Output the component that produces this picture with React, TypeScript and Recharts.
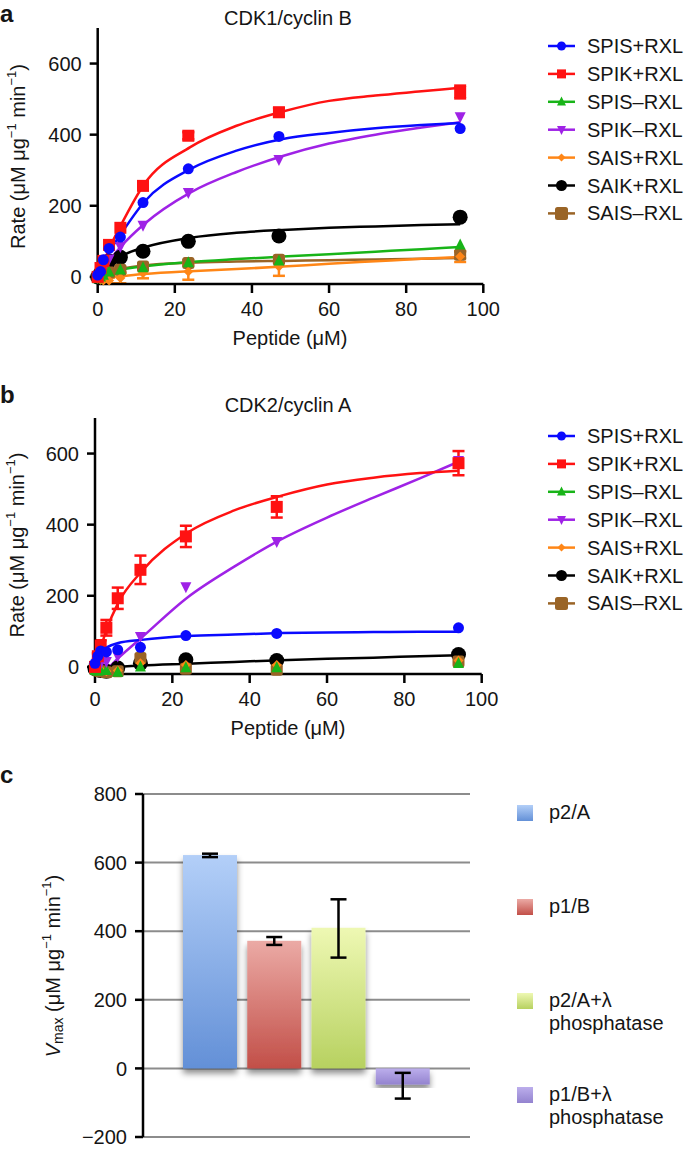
import React from 'react';
import {
  ComposedChart, Line, Scatter, XAxis, YAxis, ErrorBar,
  BarChart, Bar, Cell, CartesianGrid,
} from 'recharts';

const FONT = '"Liberation Sans", Arial, Helvetica, sans-serif';
const INK = '#151515';

// ---------- shared data ----------
const peptideConc = [0, 0.73, 1.47, 2.94, 5.88, 11.75, 23.5, 47, 94];
const fitConc = [0, 1.5, 3, 6, 12, 24, 36, 48, 60, 72, 84, 94];
const seriesNames = ['SPIS+RXL', 'SPIK+RXL', 'SPIS–RXL', 'SPIK–RXL', 'SAIS+RXL', 'SAIK+RXL', 'SAIS–RXL'];
const peptideTicks = [0, 20, 40, 60, 80, 100];
const rateTicks = [0, 200, 400, 600];

// ---------- panel a : CDK1/cyclin B ----------
const aSpisPlus = [5, 15, 48, 80, 112, 209, 304, 395, 417];
const aSpikPlus = [0, 25, 45, 90, 138, 256, 397, 463, 520];
const aSpikPlusErr = [0, 0, 0, 0, 0, 5, 10, 12, 18];
const aSpisMinus = [-5, 0, 5, 14, 20, 26, 40, 45, 90];
const aSpikMinus = [0, 10, 25, 50, 85, 145, 237, 330, 450];
const aSaisPlus = [-5, -8, -10, -10, -3, 11, 15, 29, 57];
const aSaisPlusErr = [0, 3, 5, 8, 15, 15, 23, 26, 15];
const aSaikPlus = [0, 10, 20, 45, 55, 72, 100, 115, 168];
const aSaisMinus = [0, 2, 5, 12, 20, 29, 39, 48, 62];
const aSaisMinusErr = [0, 0, 0, 5, 8, 8, 8, 8, 10];

const aFitSpisPlus = [0, 35, 70, 120, 210, 303, 355, 388, 405, 418, 427, 433];
const aFitSpikPlus = [0, 40, 80, 145, 260, 365, 425, 465, 495, 510, 522, 532];
const aFitSpisMinus = [0, 6, 12, 20, 30, 42, 50, 57, 64, 71, 78, 84];
const aFitSpikMinus = [0, 22, 45, 85, 148, 237, 295, 340, 375, 400, 420, 435];
const aFitSaisPlus = [-5, -3, -1, 2, 8, 16, 22, 29, 37, 44, 51, 56];
const aFitSaikPlus = [0, 22, 38, 58, 83, 110, 124, 132, 138, 142, 146, 148];
const aFitSaisMinus = [0, 6, 12, 22, 32, 40, 43, 45, 47, 49, 51, 53];

// ---------- panel b : CDK2/cyclin A ----------
const bSpisPlus = [10, 30, 45, 42, 48, 55, 88, 94, 110];
const bSpikPlus = [0, 30, 60, 110, 193, 273, 367, 450, 573];
const bSpikPlusErr = [0, 8, 15, 22, 30, 40, 30, 30, 34];
const bSpisMinus = [-10, -12, -10, -10, -15, 0, -2, -2, 10];
const bSpikMinus = [0, 5, 10, 15, 30, 85, 225, 352, 580];
const bSaisPlus = [-5, -5, -8, -12, -10, 10, 5, 5, 18];
const bSaikPlus = [-5, -8, -10, -12, -3, 10, 20, 18, 35];
const bSaisMinus = [-5, -10, -12, -15, -12, 25, -5, -8, 15];

const bFitSpisPlus = [0, 45, 55, 67, 76, 87, 91, 95, 97, 98, 99, 99];
const bFitSpikPlus = [0, 55, 105, 180, 268, 378, 440, 481, 513, 532, 545, 552];
const bFitSpikMinus = [-10, -10, -5, 25, 82, 196, 282, 358, 420, 476, 530, 577];
const bFitSaikPlus = [-3, -2, -1, 0, 4, 9, 14, 19, 23, 26, 30, 33];

// ---------- panel c : Vmax ----------
const vmaxLabels = ['p2/A', 'p1/B', 'p2/A+λ phosphatase', 'p1/B+λ phosphatase'];
const vmaxValues = [622, 372, 410, -47];
const vmaxErrLow = [6, 12, 87, 41];
const vmaxErrHigh = [4, 11, 83, 34];
const vmaxTicks = [-200, 0, 200, 400, 600, 800];

// ---------- styles ----------
const seriesColors = ['#0a0aff', '#ff1212', '#18b418', '#9f22e6', '#ff8616', '#000000', '#9a6426'];
const seriesMarkers = ['circle', 'square', 'triangle', 'tridown', 'diamond', 'circle', 'rsquare'];
const markerSizes = [11, 12, 11, 11, 10, 15, 12];
const legendMarkerSizes = [9, 9, 9, 9, 8, 11, 13];
const drawOrder = [5, 6, 4, 2, 3, 1, 0];
const barTop = ['#b3cff8', '#ebaaa5', '#eef8b3', '#bcaeec'];
const barBottom = ['#6390d7', '#c24f48', '#b7d160', '#9383cf'];

const toPoints = (xs: number[], ys: number[], es?: number[] | null) =>
  xs.map((x, i) => ({ x, y: ys[i], e: es ? es[i] : 0 }));

function renderMarker(kind: string, cx: number, cy: number, color: string, s: number) {
  const h = s / 2;
  switch (kind) {
    case 'circle':
      return <circle cx={cx} cy={cy} r={h} fill={color} />;
    case 'square':
      return <rect x={cx - h} y={cy - h} width={s} height={s} fill={color} />;
    case 'rsquare':
      return <rect x={cx - h} y={cy - h} width={s} height={s} rx={2.5} fill={color} />;
    case 'triangle':
      return <polygon points={`${cx},${cy - s * 0.58} ${cx - h},${cy + s * 0.42} ${cx + h},${cy + s * 0.42}`} fill={color} />;
    case 'tridown':
      return <polygon points={`${cx},${cy + s * 0.58} ${cx - h},${cy - s * 0.42} ${cx + h},${cy - s * 0.42}`} fill={color} />;
    case 'diamond':
    default:
      return <polygon points={`${cx},${cy - h} ${cx + h},${cy} ${cx},${cy + h} ${cx - h},${cy}`} fill={color} />;
  }
}

const AX = { stroke: '#000', strokeWidth: 2.5 };
const TICK = { fontSize: 20, fill: INK, fontFamily: FONT };

type KProps = {
  plotLeft: number;
  plotRight: number;
  points: number[][];
  errors: (number[] | null)[];
  fits: (number[] | null)[];
};

function KineticsChart({ plotLeft, plotRight, points, errors, fits }: KProps) {
  return (
    <ComposedChart
      width={685}
      height={340}
      margin={{ top: 28, right: 685 - plotRight, bottom: 0, left: 0 }}
      style={{ fontFamily: FONT }}
    >
      <XAxis
        type="number"
        dataKey="x"
        domain={[0, 100]}
        ticks={peptideTicks}
        interval={0}
        height={56}
        axisLine={AX}
        tickLine={AX}
        tickSize={9}
        tickMargin={9}
        tick={TICK}
      />
      <YAxis
        type="number"
        domain={[-20, 700]}
        ticks={rateTicks}
        interval={0}
        width={plotLeft}
        axisLine={AX}
        tickLine={AX}
        tickSize={8}
        tickMargin={8}
        tick={TICK}
      />
      {drawOrder.map((i) =>
        fits[i] ? (
          <Line
            key={'fit' + i}
            data={toPoints(fitConc, fits[i] as number[])}
            dataKey="y"
            type="monotone"
            stroke={seriesColors[i]}
            strokeWidth={2.5}
            dot={false}
            activeDot={false}
            legendType="none"
            isAnimationActive={false}
          />
        ) : null
      )}
      {drawOrder.map((i) => (
        <Scatter
          key={'pts' + i}
          name={seriesNames[i]}
          data={toPoints(peptideConc, points[i], errors[i])}
          dataKey="y"
          fill={seriesColors[i]}
          isAnimationActive={false}
          shape={(p: any) => renderMarker(seriesMarkers[i], p.cx, p.cy, seriesColors[i], markerSizes[i])}
        >
          {errors[i] ? (
            <ErrorBar dataKey="e" direction="y" width={6} stroke={seriesColors[i]} strokeWidth={2.5} />
          ) : null}
        </Scatter>
      ))}
    </ComposedChart>
  );
}

function KineticsLegend({ top }: { top: number }) {
  return (
    <g>
      {seriesNames.map((n, i) => {
        const cy = top + i * 27.9;
        return (
          <g key={n}>
            <line x1={548} x2={575} y1={cy} y2={cy} stroke={seriesColors[i]} strokeWidth={2.5} />
            {renderMarker(seriesMarkers[i], 561.5, cy, seriesColors[i], legendMarkerSizes[i])}
            <text x={587} y={cy + 7} fontSize={20} fill={INK} fontFamily={FONT}>{n}</text>
          </g>
        );
      })}
    </g>
  );
}

function RateLabel({ cx, cy }: { cx: number; cy: number }) {
  return (
    <text
      transform={`translate(${cx},${cy}) rotate(-90)`}
      textAnchor="middle"
      dominantBaseline="central"
      fontSize={20}
      fill={INK}
      fontFamily={FONT}
    >
      <tspan>Rate (μM μg</tspan>
      <tspan fontSize={13} dy={-7}>−1</tspan>
      <tspan dy={7}> min</tspan>
      <tspan fontSize={13} dy={-7}>−1</tspan>
      <tspan dy={7}>)</tspan>
    </text>
  );
}

const GradBar = (props: any) => {
  const { x, y, width, height, fill } = props;
  if (x == null || y == null) return null;
  const top = Math.min(y, y + height);
  const h = Math.abs(height);
  return <rect x={x} y={top} width={width} height={h} fill={fill} filter="url(#barShadow)" />;
};

function VmaxChart() {
  const data = vmaxLabels.map((name, i) => ({
    name,
    v: vmaxValues[i],
    err: [vmaxErrLow[i], vmaxErrHigh[i]],
  }));
  return (
    <BarChart
      width={685}
      height={389}
      data={data}
      margin={{ top: 34, right: 215, bottom: 12, left: 0 }}
      barCategoryGap={5}
      style={{ fontFamily: FONT }}
    >
      <defs>
        {vmaxLabels.map((_, i) => (
          <linearGradient key={i} id={'vgrad' + i} x1="0" y1="0" x2="0" y2="1">
            <stop offset="0%" stopColor={barTop[i]} />
            <stop offset="100%" stopColor={barBottom[i]} />
          </linearGradient>
        ))}
        <filter id="barShadow" x="-20%" y="-20%" width="140%" height="140%">
          <feDropShadow dx="0" dy="5" stdDeviation="3" floodColor="#000" floodOpacity="0.45" />
        </filter>
      </defs>
      <CartesianGrid horizontal vertical={false} stroke="#8c8c8c" strokeWidth={2} />
      <XAxis dataKey="name" hide padding={{ left: 35, right: 35 }} />
      <YAxis
        type="number"
        domain={[-200, 800]}
        ticks={vmaxTicks}
        interval={0}
        width={143}
        axisLine={AX}
        tickLine={AX}
        tickSize={8}
        tickMargin={8}
        tick={TICK}
        tickFormatter={(v: number) => (v < 0 ? '−' + Math.abs(v) : String(v))}
      />
      <Bar dataKey="v" isAnimationActive={false} shape={(p: any) => <GradBar {...p} />}>
        {vmaxLabels.map((_, i) => (
          <Cell key={i} fill={`url(#vgrad${i})`} />
        ))}
        <ErrorBar dataKey="err" direction="y" width={8} stroke="#000" strokeWidth={2.5} />
      </Bar>
    </BarChart>
  );
}

export default function App() {
  const aPoints = [aSpisPlus, aSpikPlus, aSpisMinus, aSpikMinus, aSaisPlus, aSaikPlus, aSaisMinus];
  const aErrors = [null, aSpikPlusErr, null, null, aSaisPlusErr, null, aSaisMinusErr];
  const aFits = [aFitSpisPlus, aFitSpikPlus, aFitSpisMinus, aFitSpikMinus, aFitSaisPlus, aFitSaikPlus, aFitSaisMinus];
  const bPoints = [bSpisPlus, bSpikPlus, bSpisMinus, bSpikMinus, bSaisPlus, bSaikPlus, bSaisMinus];
  const bErrors = [null, bSpikPlusErr, null, null, null, null, null];
  const bFits = [bFitSpisPlus, bFitSpikPlus, null, bFitSpikMinus, null, bFitSaikPlus, null];

  return (
    <div style={{ position: 'absolute', left: 0, top: 0, width: 685, height: 1149, background: '#fff', overflow: 'hidden', fontFamily: FONT }}>
      <div style={{ position: 'absolute', left: 0, top: 0 }}>
        <KineticsChart plotLeft={97.7} plotRight={483.3} points={aPoints} errors={aErrors} fits={aFits} />
      </div>
      <div style={{ position: 'absolute', left: 0, top: 390 }}>
        <KineticsChart plotLeft={95} plotRight={481.7} points={bPoints} errors={bErrors} fits={bFits} />
      </div>
      <div style={{ position: 'absolute', left: 0, top: 760 }}>
        <VmaxChart />
      </div>
      <svg
        width={685}
        height={1149}
        style={{ position: 'absolute', left: 0, top: 0, pointerEvents: 'none' }}
      >
        {/* panel a */}
        <text x={0} y={22} fontSize={24} fontWeight="bold" fill={INK} fontFamily={FONT}>a</text>
        <text x={288} y={25} fontSize={20} textAnchor="middle" fill={INK} fontFamily={FONT}>CDK1/cyclin B</text>
        <RateLabel cx={18} cy={156.5} />
        <text x={290} y={345} fontSize={20} textAnchor="middle" fill={INK} fontFamily={FONT}>Peptide (μM)</text>
        <KineticsLegend top={46} />
        {/* panel b */}
        <text x={0} y={403} fontSize={24} fontWeight="bold" fill={INK} fontFamily={FONT}>b</text>
        <text x={288} y={412} fontSize={20} textAnchor="middle" fill={INK} fontFamily={FONT}>CDK2/cyclin A</text>
        <RateLabel cx={17} cy={545} />
        <text x={288} y={735} fontSize={20} textAnchor="middle" fill={INK} fontFamily={FONT}>Peptide (μM)</text>
        <KineticsLegend top={436} />
        {/* panel c */}
        <text x={0} y={783} fontSize={24} fontWeight="bold" fill={INK} fontFamily={FONT}>c</text>
        <text
          transform="translate(53,966) rotate(-90)"
          textAnchor="middle"
          dominantBaseline="central"
          fontSize={20}
          fill={INK}
          fontFamily={FONT}
        >
          <tspan fontStyle="italic">V</tspan>
          <tspan fontSize={14} dy={5}>max</tspan>
          <tspan dy={-5}> (μM μg</tspan>
          <tspan fontSize={13} dy={-7}>−1</tspan>
          <tspan dy={7}> min</tspan>
          <tspan fontSize={13} dy={-7}>−1</tspan>
          <tspan dy={7}>)</tspan>
        </text>
        {vmaxLabels.map((lab, i) => {
          const base = [819, 913, 1007, 1101][i];
          const lines = lab.split(' ');
          return (
            <g key={lab}>
              <rect x={517} y={base - 14} width={16} height={16} fill={`url(#lgrad${i})`} />
              <text x={549} y={base} fontSize={20} fill={INK} fontFamily={FONT}>
                {lines.map((t, k) => (
                  <tspan key={k} x={549} dy={k === 0 ? 0 : 23}>{t}</tspan>
                ))}
              </text>
            </g>
          );
        })}
        <defs>
          {vmaxLabels.map((_, i) => (
            <linearGradient key={i} id={'lgrad' + i} x1="0" y1="0" x2="0" y2="1">
              <stop offset="0%" stopColor={barTop[i]} />
              <stop offset="100%" stopColor={barBottom[i]} />
            </linearGradient>
          ))}
        </defs>
      </svg>
    </div>
  );
}
